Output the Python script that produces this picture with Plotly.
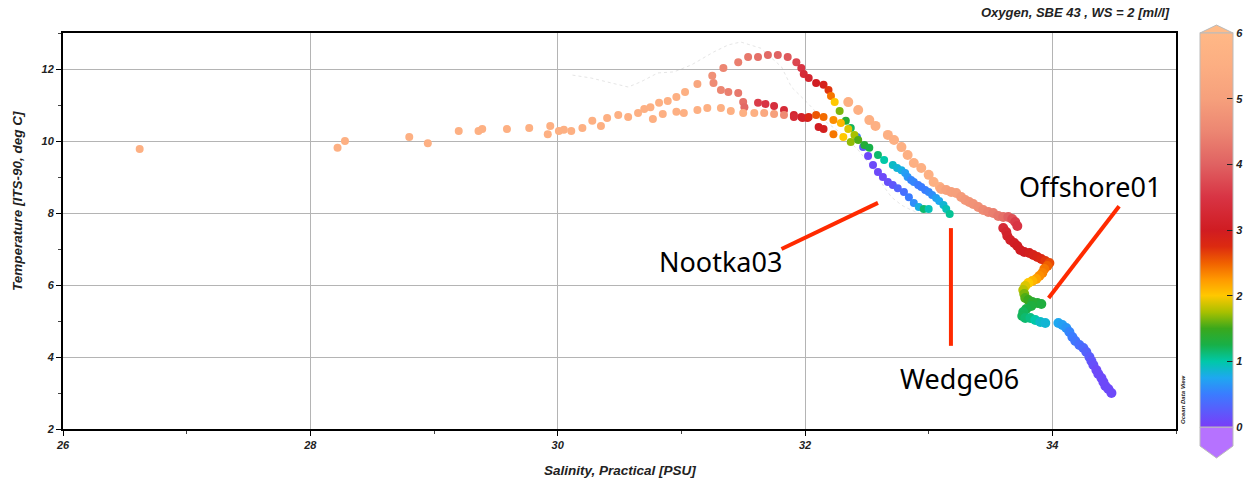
import plotly.graph_objects as go

# ---------------- data (Salinity PSU, Temperature degC, Oxygen ml/l) ----------------
# Profile A: surface peach points + upper band
sal_a = [26.62, 28.22, 28.28, 28.80, 28.95, 29.20, 29.36, 29.39, 29.59, 29.77, 29.92, 29.94, 30.01,
         30.05, 30.11, 30.20, 30.28, 30.35, 30.40, 30.49, 30.57, 30.65, 30.70, 30.75, 30.82, 30.89,
         30.96, 31.03, 31.13, 31.25, 31.34, 31.46, 31.54, 31.62, 31.70, 31.78, 31.86, 31.93, 31.97,
         31.99, 32.03, 32.09, 32.15, 32.19, 32.21, 32.24, 32.28, 32.33, 32.37]
tem_a = [9.78, 9.81, 10.00, 10.11, 9.94, 10.28, 10.28, 10.33, 10.33, 10.36, 10.19, 10.42, 10.28,
         10.31, 10.28, 10.36, 10.56, 10.42, 10.64, 10.72, 10.67, 10.78, 10.89, 10.94, 11.06, 11.11,
         11.22, 11.36, 11.58, 11.81, 12.03, 12.19, 12.33, 12.33, 12.39, 12.39, 12.33, 12.19, 12.03,
         11.86, 11.75, 11.61, 11.56, 11.42, 11.25, 11.08, 10.83, 10.56, 10.36]
oxy_a = [5.6] * 28 + [5.2, 4.7, 4.5, 4.4, 4.3, 4.2, 4.1, 4.0, 3.9, 3.7, 3.5, 3.3, 3.2, 3.0, 2.9,
                      2.7, 2.4, 2.0, 1.65, 1.35, 1.2]

# Profile B: Nootka03 low-oxygen descent
sal_b = [32.42, 32.47, 32.51, 32.55, 32.59, 32.63, 32.67, 32.71, 32.75, 32.80, 32.84, 32.88, 32.92, 32.96, 33.00]
tem_b = [10.11, 9.83, 9.58, 9.33, 9.14, 9.00, 8.86, 8.78, 8.69, 8.58, 8.44, 8.28, 8.17, 8.11, 8.11]
oxy_b = [0.5, 0.2, 0.1, 0.1, 0.1, 0.1, 0.15, 0.2, 0.3, 0.4, 0.5, 0.6, 0.8, 1.15, 0.95]

# Profile C: salmon band turning red / orange
sal_c = [31.26, 31.32, 31.38, 31.46, 31.50, 31.51, 31.62, 31.68, 31.75, 31.83, 31.91, 31.97, 32.02,
         32.11, 32.15, 32.23, 32.31, 32.37]
tem_c = [11.61, 11.42, 11.36, 11.33, 11.08, 10.94, 11.06, 11.03, 10.97, 10.86, 10.72, 10.67, 10.64,
         10.39, 10.33, 10.19, 10.11, 9.97]
oxy_c = [4.6, 4.5, 4.4, 4.3, 4.2, 4.1, 3.6, 3.5, 3.4, 3.3, 3.2, 3.1, 3.05, 3.0, 2.95, 2.4, 2.0, 1.7]

# Profile D: lower band -> Wedge06
sal_d = [30.77, 30.85, 30.96, 31.02, 31.13, 31.21, 31.32, 31.40, 31.50, 31.59, 31.67, 31.75, 31.83,
         31.91, 31.98, 32.03, 32.09, 32.15, 32.23, 32.29, 32.35, 32.40, 32.43, 32.48, 32.52, 32.59,
         32.64, 32.71, 32.745, 32.78, 32.81, 32.83, 32.858, 32.88, 32.915, 32.94, 32.972, 33.00,
         33.028, 33.06, 33.085, 33.12, 33.142, 33.17]
tem_d = [10.61, 10.75, 10.81, 10.78, 10.86, 10.92, 10.92, 10.83, 10.78, 10.78, 10.78, 10.75, 10.72,
         10.67, 10.64, 10.67, 10.72, 10.67, 10.58, 10.50, 10.33, 10.17, 10.03, 9.89, 9.81, 9.61,
         9.47, 9.33, 9.25, 9.19, 9.11, 9.00, 8.92, 8.86, 8.78, 8.72, 8.64, 8.58,
         8.50, 8.42, 8.33, 8.22, 8.11, 7.97]
oxy_d = [5.6] * 10 + [5.3, 5.0, 4.6, 3.3, 3.1, 2.8, 2.55, 2.45, 2.3, 2.1, 1.9, 1.75, 1.55, 1.35,
                      1.25, 1.15, 1.0, 0.9, 0.85, 0.8, 0.7, 0.65, 0.55, 0.55, 0.5, 0.5, 0.5, 0.55,
                      0.6, 0.7, 0.75, 0.85, 0.95, 1.05]

# Profile E: Offshore01
sal_e = [32.35, 32.43, 32.52, 32.57, 32.67, 32.72, 32.78, 32.83, 32.88, 32.94, 33.00, 33.04, 33.09,
         33.101, 33.142, 33.182, 33.223, 33.263, 33.296, 33.328, 33.360, 33.401, 33.441, 33.482,
         33.522, 33.563, 33.603, 33.644, 33.676, 33.700, 33.717,
         33.603, 33.628, 33.636, 33.660, 33.692, 33.717, 33.741, 33.773, 33.814, 33.846, 33.879,
         33.911, 33.943, 33.976,
         33.960, 33.935, 33.919, 33.895, 33.870, 33.838, 33.806, 33.781, 33.765, 33.773, 33.781,
         33.806, 33.838, 33.879, 33.911, 33.830, 33.789, 33.765, 33.757, 33.781, 33.822, 33.862,
         33.903, 33.943,
         34.049, 34.081, 34.113, 34.138, 34.162, 34.186, 34.219, 34.251, 34.275, 34.300, 34.316,
         34.332, 34.356, 34.372, 34.397, 34.413, 34.429, 34.453, 34.478]
tem_e = [11.08, 10.86, 10.58, 10.42, 10.17, 10.03, 9.83, 9.61, 9.39, 9.25, 9.06, 8.86, 8.72,
         8.667, 8.639, 8.583, 8.556, 8.444, 8.361, 8.306, 8.250, 8.167, 8.083, 8.028,
         8.000, 7.917, 7.889, 7.889, 7.833, 7.750, 7.639,
         7.583, 7.472, 7.361, 7.250, 7.167, 7.083, 6.972, 6.917, 6.889, 6.833, 6.778,
         6.722, 6.667, 6.611,
         6.528, 6.444, 6.333, 6.250, 6.167, 6.111, 6.056, 5.972, 5.861, 5.750, 5.639,
         5.583, 5.528, 5.500, 5.472, 5.417, 5.333, 5.250, 5.139, 5.083, 5.083, 5.028,
         4.972, 4.944,
         4.944, 4.889, 4.806, 4.694, 4.556, 4.444, 4.333, 4.250, 4.139, 4.000, 3.889,
         3.778, 3.639, 3.528, 3.417, 3.306, 3.194, 3.111, 3.000]
oxy_e = [5.6] * 13 + [5.3, 5.1, 5.0, 5.0, 4.9, 4.85, 4.8, 4.75, 4.7, 4.6, 4.5,
                      4.4, 4.3, 4.2, 4.0, 3.8, 3.6, 3.5,
                      3.3, 3.2, 3.15, 3.1, 3.05, 3.0, 3.0, 3.0, 2.95, 2.9, 2.85,
                      2.8, 2.7, 2.6,
                      2.5, 2.4, 2.35, 2.3, 2.2, 2.1, 2.0, 1.9, 1.8, 1.65, 1.55,
                      1.5, 1.4, 1.35, 1.3, 1.3, 1.25, 1.2, 1.2, 1.15, 1.1, 1.0,
                      0.9, 0.85,
                      0.75, 0.7, 0.65, 0.55, 0.5, 0.45, 0.4, 0.35, 0.3, 0.25, 0.2,
                      0.15, 0.1, 0.1, 0.1, 0.1, 0.1, 0.1, 0.1]

# faint thin track
sal_track = [30.12, 30.27, 30.40, 30.57, 30.67, 30.81, 30.94, 31.08, 31.26, 31.38, 31.48, 31.64, 31.81,
             31.89, 32.02, 32.15, 32.29, 32.43, 32.56, 32.64, 32.70, 32.78, 32.86, 32.92]
tem_track = [11.83, 11.75, 11.64, 11.50, 11.64, 11.89, 11.92, 12.11, 12.47, 12.67, 12.75, 12.58, 12.06,
             11.50, 11.06, 10.58, 10.22, 9.75, 9.19, 8.72, 8.44, 8.22, 8.08, 8.00]

labels = ["Nootka03", "Wedge06", "Offshore01"]
cbar_ticks = [0, 1, 2, 3, 4, 5, 6]

profiles = [(sal_a, tem_a, oxy_a), (sal_b, tem_b, oxy_b), (sal_c, tem_c, oxy_c),
            (sal_d, tem_d, oxy_d), (sal_e, tem_e, oxy_e)]
for s, t, o in profiles:
    assert len(s) == len(t) == len(o), (len(s), len(t), len(o))

# ---------------- style ----------------
odv_scale = [
    [0.0, "#7a3cf8"], [0.5 / 6, "#3a7cff"], [0.75 / 6, "#1ea8f0"], [1.0 / 6, "#00c8a8"],
    [1.25 / 6, "#18b048"], [1.5 / 6, "#3aa81c"], [1.75 / 6, "#a8c000"], [2.0 / 6, "#ffc800"],
    [2.25 / 6, "#ff9800"], [2.5 / 6, "#f06000"], [2.75 / 6, "#dc2a10"], [3.0 / 6, "#d01c22"],
    [3.5 / 6, "#d83444"], [4.0 / 6, "#e06262"], [4.5 / 6, "#ec8672"], [5.0 / 6, "#f6a07c"],
    [5.5 / 6, "#fcae82"], [1.0, "#ffb886"],
]

W, H = 1250, 484
L, R, T, B = 63, 1176, 33, 429
PW, PH = R - L, B - T


def px(x):
    return (x - L) / PW


def py(y):
    return (B - y) / PH


FONT = "Liberation Sans"
bi = dict(family=FONT, size=11, color="#222222", weight="bold", style="italic")
title_font = dict(family=FONT, size=13.5, color="#222", weight="bold", style="italic")

fig = go.Figure()

fig.add_trace(go.Scatter(x=sal_track, y=tem_track, mode="lines",
                         line=dict(color="rgba(160,160,160,0.35)", width=0.8, dash="dot"),
                         hoverinfo="skip", showlegend=False))

for i, (s, t, o) in enumerate(profiles):
    fig.add_trace(go.Scatter(
        x=s, y=t, mode="markers", showlegend=False,
        marker=dict(size=10 if i == 4 else 8, color=o, coloraxis="coloraxis", line=dict(width=0)),
    ))

axis_common = dict(
    showline=True, linecolor="black", linewidth=2, mirror=True,
    showgrid=True, gridcolor="#b4b4b4", gridwidth=1,
    ticks="outside", ticklen=5, tickcolor="black", tickwidth=1,
    tickfont=bi, zeroline=False,
    minor=dict(ticks="outside", ticklen=3, tickcolor="#444", showgrid=False),
)

fig.update_xaxes(range=[26, 35], tick0=26, dtick=2, **axis_common)
fig.update_xaxes(minor_dtick=1)
fig.update_yaxes(range=[2, 13], tick0=2, dtick=2, **axis_common)
fig.update_yaxes(minor_dtick=1)

fig.update_layout(
    width=W, height=H,
    margin=dict(l=L, r=W - R, t=T, b=H - B, autoexpand=False),
    plot_bgcolor="white", paper_bgcolor="white",
    coloraxis=dict(
        cmin=0, cmax=6, colorscale=odv_scale,
        colorbar=dict(
            x=px(1200), xanchor="left", xref="paper",
            y=py(230), yanchor="middle",
            thickness=33, thicknessmode="pixels",
            len=394, lenmode="pixels",
            tickvals=cbar_ticks, ticks="inside", ticklen=6, tickcolor="#222",
            tickfont=bi, outlinewidth=1, outlinecolor="#bbbbbb",
            xpad=0, ypad=0,
        ),
    ),
)

# colorbar end triangles
fig.add_shape(type="path", xref="paper", yref="paper",
              path=f"M {px(1200)} {py(33)} L {px(1233)} {py(33)} L {px(1216.5)} {py(25)} Z",
              fillcolor="#ffbb88", line=dict(color="#bbbbbb", width=1))
fig.add_shape(type="path", xref="paper", yref="paper",
              path=(f"M {px(1200)} {py(427)} L {px(1233)} {py(427)} L {px(1233)} {py(446)} "
                    f"L {px(1216.5)} {py(458)} L {px(1200)} {py(446)} Z"),
              fillcolor="#b672ff", line=dict(color="#bbbbbb", width=1))
# left-side colorbar tick dashes
for v in cbar_ticks[1:-1]:
    yy = 427 - v * (427 - 33) / 6
    fig.add_shape(type="line", xref="paper", yref="paper",
                  x0=px(1200), x1=px(1206), y0=py(yy), y1=py(yy),
                  line=dict(color="#222", width=1))

# red callout lines (data coordinates)
red = "#ff2a00"
fig.add_shape(type="line", xref="x", yref="y", x0=31.81, y0=7.00, x1=32.59, y1=8.28,
              line=dict(color=red, width=4))
fig.add_shape(type="line", xref="x", yref="y", x0=33.18, y0=4.31, x1=33.18, y1=7.58,
              line=dict(color=red, width=4))
fig.add_shape(type="line", xref="x", yref="y", x0=33.97, y0=5.64, x1=34.54, y1=8.19,
              line=dict(color=red, width=4))

lab_font = dict(family="Noto Sans", size=27, color="black")
for text, (cx, cy) in zip(labels, [(720, 261), (959, 378), (1090, 186)]):
    fig.add_annotation(x=px(cx), y=py(cy), xref="paper", yref="paper", text=text,
                       showarrow=False, font=lab_font, xanchor="center", yanchor="middle")

fig.add_annotation(x=px(1172), y=py(13), xref="paper", yref="paper",
                   text="Oxygen, SBE 43 , WS = 2 [ml/l]", showarrow=False,
                   xanchor="right", yanchor="middle",
                   font=dict(family=FONT, size=13, color="#222", weight="bold", style="italic"))
fig.add_annotation(x=px(620), y=py(470), xref="paper", yref="paper",
                   text="Salinity, Practical [PSU]", showarrow=False,
                   xanchor="center", yanchor="middle", font=title_font)
fig.add_annotation(x=px(18), y=py(201), xref="paper", yref="paper",
                   text="Temperature [ITS-90, deg C]", showarrow=False, textangle=-90,
                   xanchor="center", yanchor="middle", font=title_font)
fig.add_annotation(x=px(1183), y=py(400), xref="paper", yref="paper",
                   text="Ocean Data View", showarrow=False, textangle=-90,
                   xanchor="center", yanchor="middle",
                   font=dict(family=FONT, size=6, color="#222", weight="bold", style="italic"))

fig.write_html("out.html")
